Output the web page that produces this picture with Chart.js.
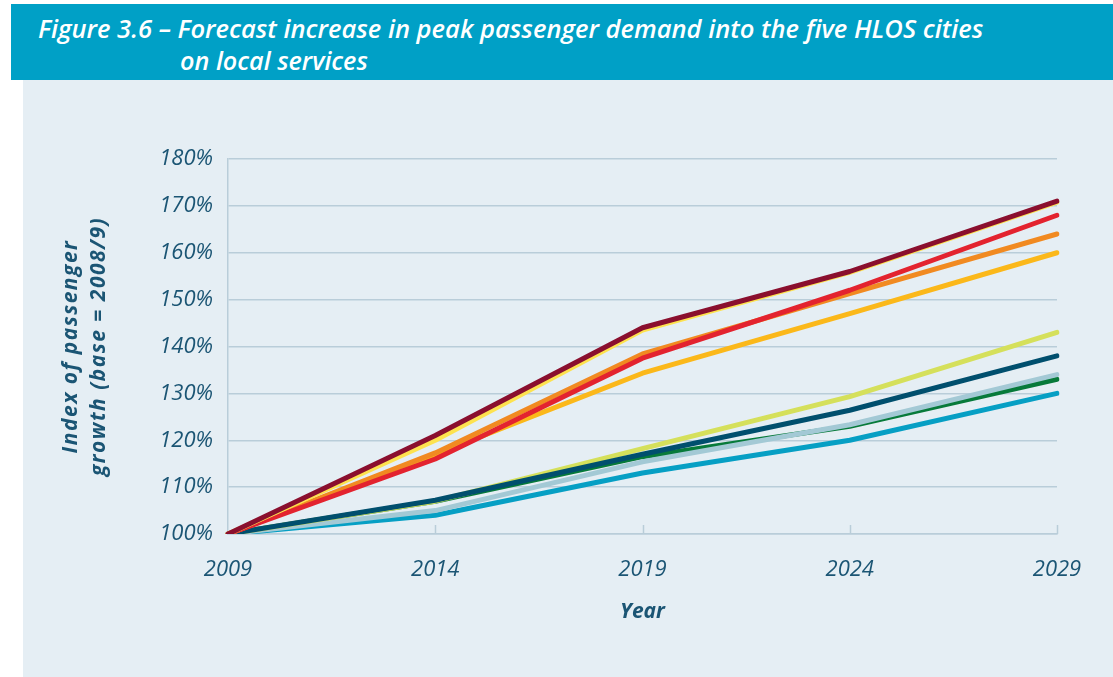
<!DOCTYPE html>
<html>
<head>
<meta charset="utf-8">
<script src="https://cdn.jsdelivr.net/npm/chart.js@4"></script>
<style>
  body { margin: 0; background: #fff; width: 1113px; height: 677px; overflow: hidden; position: relative; }
  #header {
    position: absolute; left: 11px; top: 4px; width: 1102px; height: 76px;
    background: #00a0c6; color: #fff;
    font-family: "Open Sans", sans-serif;
    font-style: italic; font-weight: 600; font-size: 26px; line-height: 32px;
  }
  #header span { position: absolute; white-space: nowrap; transform-origin: 0 50%; }
  #header .l1 { left: 27px; top: 8px; }
  #header .l2 { left: 169px; top: 40px; }
  #panel { position: absolute; left: 23px; top: 80px; width: 1090px; height: 597px; background: #e5eef4; }
  #chart { position: absolute; left: 0; top: 0; }
</style>
</head>
<body>
<div id="header">
  <span class="l1" data-w="945">Figure 3.6 – Forecast increase in peak passenger demand into the five HLOS cities</span>
  <span class="l2" data-w="188">on local services</span>
</div>
<div id="panel"></div>
<canvas id="chart" width="1113" height="677"></canvas>
<script>
// years on the x axis
const years = ["2009", "2014", "2019", "2024", "2029"];

// index values (%) per series
const darkRed    = [100, 121, 144, 156, 171];
const red        = [100, 116, 137.5, 152, 168];
const orange     = [100, 117.3, 138.4, 151.3, 164];
const paleYellow = [100, 120, 143.5, 155.8, 170.8];
const amber      = [100, 117, 134.3, 147, 160];
const navy       = [100, 107.2, 117, 126.4, 138];
const lime       = [100, 107, 118.2, 129.3, 143];
const lightBlue  = [100, 105, 115.4, 123.3, 134];
const green      = [100, 107, 116.5, 123, 133];
const cyan       = [100, 104, 113, 120, 130];

const yTicks = [100, 110, 120, 130, 140, 150, 160, 170, 180];

const textCol = "#1b5574";
const gridCol = "#b9cdd9";

// condensed look for the heading
document.querySelectorAll("#header span").forEach(el => {
  const s = Number(el.dataset.w) / el.offsetWidth;
  el.style.transform = "scaleX(" + s + ")";
});

const series = [
  { data: darkRed, color: "#8a0f2e" },
  { data: paleYellow, color: "#fde24f" },
  { data: red, color: "#e3232f" },
  { data: orange, color: "#f18a21" },
  { data: amber, color: "#fbb81a" },
  { data: navy, color: "#004f6e" },
  { data: lime, color: "#d5e05b" },
  { data: lightBlue, color: "#a3c9d5" },
  { data: green, color: "#077a3a" },
  { data: cyan, color: "#069fc4" }
];

// short upward tick marks on the x axis
const xTickMarks = {
  id: "xTickMarks",
  afterDatasetsDraw(chart) {
    const { ctx, scales: { x }, chartArea } = chart;
    ctx.save();
    ctx.strokeStyle = gridCol;
    ctx.lineWidth = 1.5;
    for (let i = 1; i < years.length; i++) {
      const px = Math.round(x.getPixelForTick(i)) + 0.5;
      ctx.beginPath();
      ctx.moveTo(px, chartArea.bottom);
      ctx.lineTo(px, chartArea.bottom - 9);
      ctx.stroke();
    }
    ctx.restore();
  }
};

const chart = new Chart(document.getElementById("chart"), {
  type: "line",
  data: {
    labels: years,
    datasets: series.map(s => ({
      data: s.data,
      borderColor: s.color,
      backgroundColor: s.color,
      borderWidth: 5,
      borderCapStyle: "round",
      borderJoinStyle: "round",
      pointRadius: 0,
      tension: 0,
      fill: false
    }))
  },
  options: {
    responsive: false,
    devicePixelRatio: 1,
    animation: false,
    layout: { padding: { left: 54, top: 159, right: 56, bottom: 43 } },
    plugins: { legend: { display: false }, tooltip: { enabled: false } },
    scales: {
      x: {
        offset: false,
        grid: { display: false, drawTicks: false },
        border: { display: true, color: gridCol, width: 1.5 },
        ticks: {
          padding: 23,
          color: textCol,
          maxRotation: 0,
          font: { family: "Open Sans", style: "italic", size: 22 }
        },
        title: {
          display: true,
          text: "Year",
          color: textCol,
          padding: { top: 0, bottom: 9 },
          font: { family: "Open Sans", style: "italic", weight: "bold", size: 21 }
        },
        afterFit(scale) { scale.height = 100; }
      },
      y: {
        min: 100,
        max: 180,
        afterBuildTicks(scale) { scale.ticks = yTicks.map(v => ({ value: v })); },
        grid: { color: gridCol, lineWidth: 1.5, drawTicks: false },
        border: { display: true, color: gridCol, width: 1.5 },
        ticks: {
          padding: 15,
          color: textCol,
          font: { family: "Open Sans", style: "italic", size: 22 },
          callback: v => v + "%"
        },
        title: {
          display: true,
          text: ["Index of passenger", "growth (base = 2008/9)"],
          color: textCol,
          padding: { top: 3, bottom: 0 },
          font: { family: "Open Sans", style: "italic", weight: "bold", size: 21, lineHeight: 1.33 }
        },
        afterFit(scale) { scale.width = 174; },
        afterUpdate(scale) {
          // wider tracking for the axis title only
          if (scale._spacedTitle) return;
          const draw = scale.drawTitle.bind(scale);
          scale.drawTitle = function () {
            const ctx = scale.ctx;
            ctx.save();
            ctx.letterSpacing = "1.5px";
            draw();
            ctx.restore();
          };
          scale._spacedTitle = true;
        }
      }
    }
  },
  plugins: [xTickMarks]
});
chart.draw();
</script>
</body>
</html>
